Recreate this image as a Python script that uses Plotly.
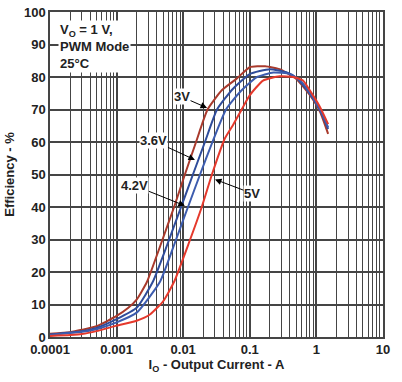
import math
import plotly.graph_objects as go

# Output current (A) and efficiency (%) per input voltage
I_3V = [0.0001, 0.0002, 0.0003, 0.0005, 0.001, 0.0015, 0.002, 0.00286, 0.0047, 0.0073, 0.0106, 0.0156, 0.0232, 0.0383, 0.0635, 0.1, 0.17, 0.28, 0.5, 0.8, 1.13, 1.5]
E_3V = [1.0, 1.5, 2.2, 3.3, 6.5, 9, 11.5, 17, 29, 40, 50, 60, 70, 76, 79.5, 83, 83.3, 82.4, 79.4, 74.4, 69.4, 62.5]

I_36V = [0.0001, 0.0003, 0.0005, 0.001, 0.002, 0.0035, 0.0059, 0.0093, 0.014, 0.0212, 0.0322, 0.056, 0.1, 0.2, 0.36, 0.5, 0.8, 1.13, 1.5]
E_36V = [0.8, 1.8, 2.8, 5.5, 9, 17, 29, 40, 50, 60, 70, 76.4, 80.9, 82.4, 81.4, 79.8, 74.8, 69.8, 64]

I_42V = [0.0001, 0.0003, 0.0005, 0.001, 0.002, 0.00448, 0.0075, 0.0118, 0.0179, 0.0275, 0.0439, 0.0712, 0.126, 0.226, 0.4, 0.6, 0.8, 1.13, 1.5]
E_42V = [0.6, 1.6, 2.4, 4.5, 7.5, 17, 29, 40, 50, 60, 70, 75.4, 79.9, 81.4, 80.9, 78.5, 75, 70, 64.5]

I_5V = [0.0001, 0.0002, 0.0003, 0.0005, 0.001, 0.002, 0.0032, 0.005, 0.0073, 0.0122, 0.019, 0.027, 0.042, 0.0566, 0.0755, 0.1, 0.158, 0.28, 0.45, 0.63, 0.8, 1.13, 1.5]
E_5V = [0.3, 0.6, 0.9, 1.8, 3.5, 5, 7, 11, 17, 29, 40, 50, 61, 65.4, 70, 74.4, 78.9, 80.2, 80, 78.9, 75.8, 70.8, 65.5]

series_names = ["3V", "3.6V", "4.2V", "5V"]
x_tickvals = [0.0001, 0.001, 0.01, 0.1, 1, 10]
x_ticktext = ["0.0001", "0.001", "0.01", "0.1", "1", "10"]
y_tickvals = [0, 10, 20, 30, 40, 50, 60, 70, 80, 90, 100]

colors = ["#A93A2C", "#2F4C9A", "#3D5CAE", "#E5392C"]
data = [(I_3V, E_3V), (I_36V, E_36V), (I_42V, E_42V), (I_5V, E_5V)]

FONT = "Liberation Sans, Arial, sans-serif"
GRID = "#454545"

fig = go.Figure()
for (xs, ys), name, c in zip(data, series_names, colors):
    fig.add_trace(go.Scatter(x=xs, y=ys, mode="lines", name=name,
                             line=dict(color=c, width=2, shape="spline", smoothing=0.5)))

# label arrows: (text, tip current, tip efficiency, ax, ay)
labels = [("3V", 0.0228, 70.5, -25, -11),
          ("3.6V", 0.0150, 54.5, -41, -19),
          ("4.2V", 0.0106, 40.4, -50, -20),
          ("5V", 0.030, 48.5, 37, 14)]
for t, xi, yi, ax, ay in labels:
    fig.add_annotation(x=math.log10(xi), y=yi, xref="x", yref="y", text=t, showarrow=True,
                       ax=ax, ay=ay, arrowhead=2, arrowsize=1.3, arrowwidth=1,
                       arrowcolor="#000", bgcolor="white", borderpad=0,
                       font=dict(family=FONT, size=13, color="#222", weight="bold"))

fig.add_annotation(x=0, y=1, xref="paper", yref="paper", xanchor="left", yanchor="top",
                   xshift=8, yshift=-8, align="left", showarrow=False, bgcolor="white",
                   text="V<sub>O</sub> = 1 V,<br>PWM Mode<br>25°C",
                   font=dict(family=FONT, size=13, color="#222", weight="bold"))

fig.update_layout(
    width=402, height=382, margin=dict(l=50, r=19, t=5, b=45),
    paper_bgcolor="white", plot_bgcolor="white", showlegend=False,
    font=dict(family=FONT, color="#222"),
    xaxis=dict(type="log", range=[-4, 1], tickvals=x_tickvals, ticktext=x_ticktext,
               showgrid=True, gridcolor=GRID, gridwidth=1.5,
               minor=dict(showgrid=True, gridcolor=GRID, gridwidth=1.2, dtick="D1", ticks=""),
               showline=True, linecolor=GRID, linewidth=1.5, mirror=True,
               ticks="", ticklabeloverflow="allow",
               tickfont=dict(family=FONT, size=13, weight="bold", color="#222"),
               title=dict(text="I<sub>O</sub> - Output Current - A", standoff=4,
                          font=dict(family=FONT, size=13, weight="bold", color="#222"))),
    yaxis=dict(range=[0, 100], tickvals=y_tickvals, showgrid=True, gridcolor=GRID, gridwidth=1.5,
               showline=True, linecolor=GRID, linewidth=1.5, mirror=True, zeroline=False,
               ticks="", ticklabeloverflow="allow",
               tickfont=dict(family=FONT, size=13, weight="bold", color="#222"),
               title=dict(text="Efficiency - %", standoff=6,
                          font=dict(family=FONT, size=13, weight="bold", color="#222"))),
)

fig.write_html("out.html", config={"displayModeBar": False},
               post_script="document.body.style.margin='0';")
